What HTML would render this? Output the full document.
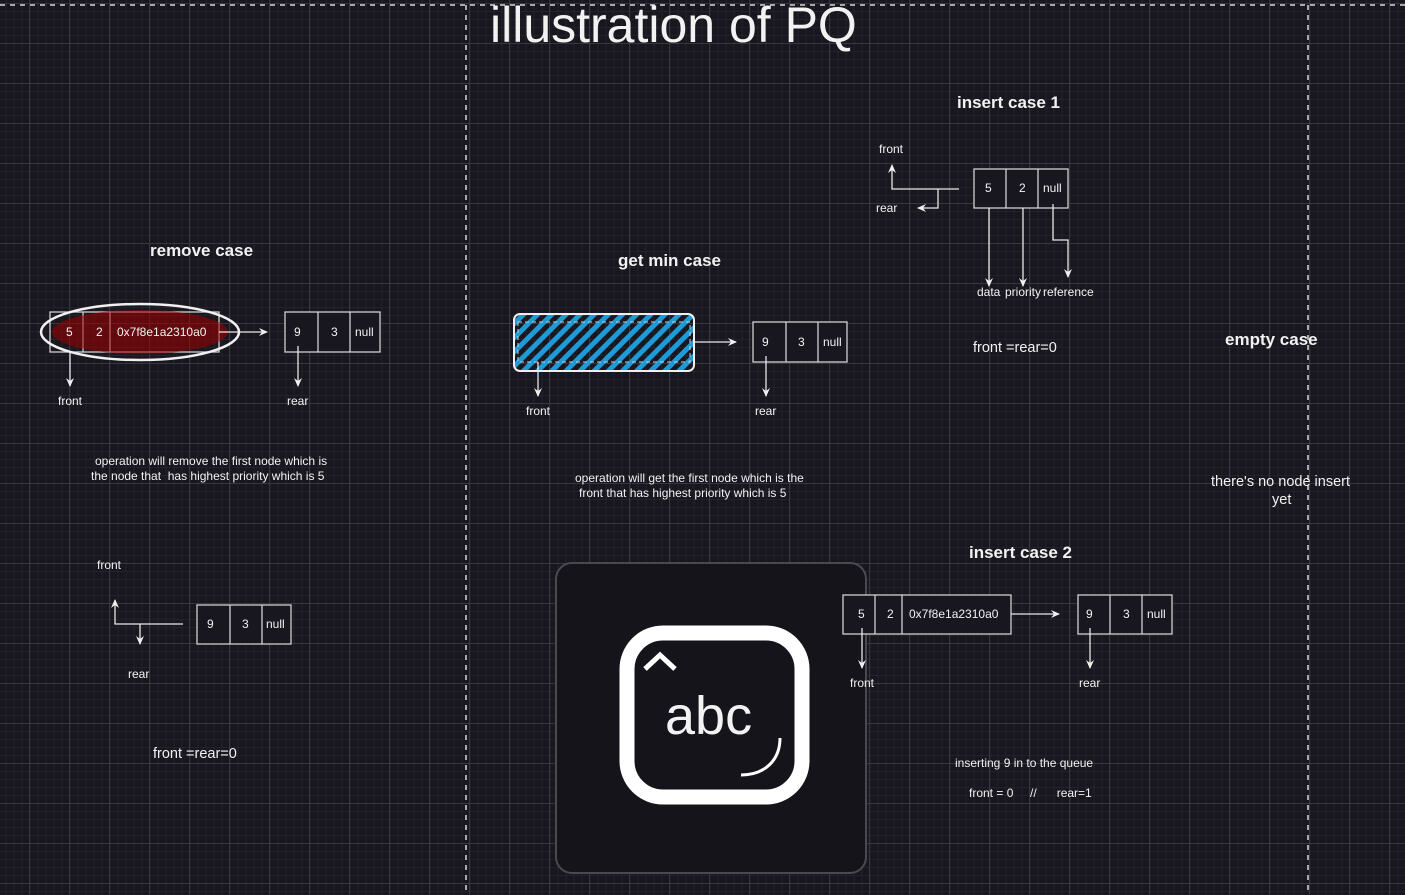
<!DOCTYPE html>
<html><head><meta charset="utf-8"><style>
html,body{margin:0;padding:0;background:#18161e;}
svg{display:block;font-family:"Liberation Sans",Arial,sans-serif;}
text{fill:#f2f2f2;white-space:pre;}
</style></head><body>
<svg width="1405" height="895" viewBox="0 0 1405 895" xmlns="http://www.w3.org/2000/svg">
<defs>
<pattern id="minor" width="8" height="8" patternUnits="userSpaceOnUse" x="5.5" y="3">
<path d="M0 0.5H8M0.5 0V8" stroke="#232129" stroke-width="1" fill="none"/>
</pattern>
<pattern id="major" width="40" height="40" patternUnits="userSpaceOnUse" x="29" y="3">
<path d="M0 0.5H40M0.5 0V40" stroke="#38363e" stroke-width="1" fill="none"/>
</pattern>
<pattern id="hatch" width="10" height="10" patternUnits="userSpaceOnUse" patternTransform="rotate(45)">
<rect width="5" height="10" fill="#1e9ad6"/>
</pattern>
<marker id="ar" markerWidth="10" markerHeight="10" refX="8" refY="5" orient="auto" markerUnits="userSpaceOnUse">
<path d="M0 1L9 5L0 9L3 5Z" fill="#f0f0f0"/>
</marker>
</defs>
<rect width="1405" height="895" fill="#18161e"/>
<rect width="1405" height="895" fill="url(#minor)"/>
<rect width="1405" height="895" fill="url(#major)"/>

<line x1="0" y1="5" x2="1405" y2="5" stroke="#d8d8d8" stroke-width="1.5" stroke-dasharray="5 5"/>
<line x1="466" y1="5" x2="466" y2="895" stroke="#d8d8d8" stroke-width="1.5" stroke-dasharray="5 5"/>
<line x1="1308" y1="5" x2="1308" y2="895" stroke="#d8d8d8" stroke-width="1.5" stroke-dasharray="5 5"/>

<text x="490" y="42" font-size="50">illustration of PQ</text>

<!-- abc image (behind nodes) -->
<rect x="556" y="563" width="310" height="310" rx="16" fill="#16141b" stroke="#4a4950" stroke-width="2"/>
<rect x="627" y="633" width="175" height="164" rx="36" fill="none" stroke="#ffffff" stroke-width="15"/>
<path d="M645 669L660 655L675 669" fill="none" stroke="#fff" stroke-width="5"/>
<text x="665" y="734" font-size="54" fill="#fff">abc</text>
<path d="M780 738C780 760 765 775 741 775" fill="none" stroke="#fff" stroke-width="3"/>

<g stroke="#d0d0d0" stroke-width="1.3" fill="#18161e">
<rect x="50" y="312" width="169" height="40" fill="none"/><line x1="83" y1="312" x2="83" y2="352"/><line x1="110" y1="312" x2="110" y2="352"/>
<rect x="285" y="312" width="95" height="40"/><line x1="318" y1="312" x2="318" y2="352"/><line x1="350" y1="312" x2="350" y2="352"/>
<rect x="753" y="322" width="94" height="40"/><line x1="786" y1="322" x2="786" y2="362"/><line x1="818" y1="322" x2="818" y2="362"/>
<rect x="974" y="169" width="94" height="39"/><line x1="1006" y1="169" x2="1006" y2="208"/><line x1="1038" y1="169" x2="1038" y2="208"/>
<rect x="843" y="595" width="168" height="39"/><line x1="875" y1="595" x2="875" y2="634"/><line x1="902" y1="595" x2="902" y2="634"/>
<rect x="1078" y="595" width="94" height="39"/><line x1="1110" y1="595" x2="1110" y2="634"/><line x1="1142" y1="595" x2="1142" y2="634"/>
<rect x="197" y="605" width="94" height="39"/><line x1="230" y1="605" x2="230" y2="644"/><line x1="262" y1="605" x2="262" y2="644"/>
</g>

<ellipse cx="140" cy="332" rx="88" ry="22" fill="#a00000" opacity="0.55"/>
<ellipse cx="140" cy="332" rx="99" ry="28" fill="none" stroke="#f0f0f0" stroke-width="2.5"/>

<rect x="514" y="314" width="180" height="57" rx="6" fill="url(#hatch)" stroke="#f0f0f0" stroke-width="2"/>
<rect x="518" y="322" width="172" height="40" fill="none" stroke="#d0d0d0" stroke-width="1" stroke-dasharray="4 3"/>

<g stroke="#e8e8e8" stroke-width="1.3" fill="none" marker-end="url(#ar)">
<line x1="219" y1="332" x2="267" y2="332"/>
<line x1="70" y1="352" x2="70" y2="386"/>
<line x1="298" y1="346" x2="298" y2="386"/>
<line x1="694" y1="342" x2="736" y2="342"/>
<line x1="538" y1="362" x2="538" y2="396"/>
<line x1="766" y1="356" x2="766" y2="396"/>
<path d="M959 189H892V165"/>
<path d="M938 189V208H918"/>
<line x1="989" y1="208" x2="989" y2="286"/>
<line x1="1023" y1="208" x2="1023" y2="286"/>
<path d="M1053 204V240H1068V277"/>
<line x1="1011" y1="614" x2="1059" y2="614"/>
<line x1="862" y1="628" x2="862" y2="668"/>
<line x1="1090" y1="628" x2="1090" y2="668"/>
<path d="M183 624H115V600"/>
<line x1="140" y1="624" x2="140" y2="644"/>
</g>

<g font-size="12">
<text x="66" y="336">5</text><text x="96" y="336">2</text><text x="117" y="336">0x7f8e1a2310a0</text>
<text x="294" y="336">9</text><text x="331" y="336">3</text><text x="355" y="336">null</text>
<text x="58" y="405">front</text><text x="287" y="405">rear</text>
<text x="762" y="346">9</text><text x="798" y="346">3</text><text x="823" y="346">null</text>
<text x="526" y="415">front</text><text x="755" y="415">rear</text>
<text x="985" y="192">5</text><text x="1019" y="192">2</text><text x="1043" y="192">null</text>
<text x="879" y="153">front</text><text x="876" y="212">rear</text>
<text x="977" y="296">data</text><text x="1005" y="296">priority</text><text x="1043" y="296">reference</text>
<text x="858" y="618">5</text><text x="887" y="618">2</text><text x="909" y="618">0x7f8e1a2310a0</text>
<text x="1086" y="618">9</text><text x="1123" y="618">3</text><text x="1147" y="618">null</text>
<text x="850" y="687">front</text><text x="1079" y="687">rear</text>
<text x="207" y="628">9</text><text x="242" y="628">3</text><text x="266" y="628">null</text>
<text x="97" y="569">front</text><text x="128" y="678">rear</text>
<text x="95" y="465">operation will remove the first node which is</text>
<text x="91" y="480">the node that  has highest priority which is 5</text>
<text x="575" y="482">operation will get the first node which is the</text>
<text x="579" y="497">front that has highest priority which is 5</text>
<text x="955" y="767">inserting 9 in to the queue</text>
<text x="969" y="797">front = 0     //      rear=1</text>
</g>
<g font-size="14.5">
<text x="973" y="352">front =rear=0</text>
<text x="153" y="758">front =rear=0</text>
<text x="1211" y="486">there's no node insert</text>
<text x="1272" y="504">yet</text>
</g>
<g font-size="17" font-weight="bold">
<text x="150" y="256">remove case</text>
<text x="618" y="266">get min case</text>
<text x="957" y="108">insert case 1</text>
<text x="969" y="558">insert case 2</text>
<text x="1225" y="345">empty case</text>
</g>
</svg>
</body></html>
